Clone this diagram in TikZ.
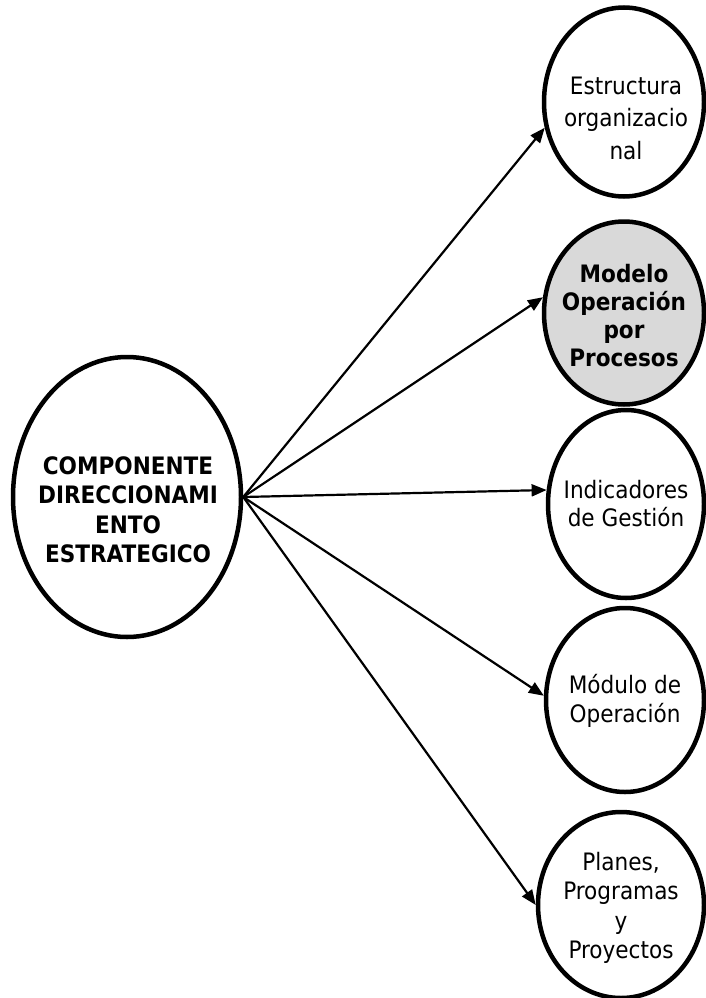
\documentclass[tikz,border=0pt]{standalone}
\usepackage{fontspec}
\setmainfont{DejaVu Sans Condensed}
\usetikzlibrary{shapes.geometric,arrows.meta}
\begin{document}
\begin{tikzpicture}[x=1pt,y=-1pt,
  bubble/.style={draw=black,line width=4.5pt,ellipse,inner sep=0pt},
  bubbletext/.style={align=center,font=\fontsize{24}{28}\selectfont,inner sep=0pt},
  link/.style={line width=2.2pt,-{Triangle[length=15pt,width=12pt]}}
]
\useasboundingbox (0,0) rectangle (705,998);

% central component
\node[bubble,minimum width=228pt,minimum height=280pt] (c) at (127,497) {};
\node[bubbletext,font=\bfseries\fontsize{24}{29.5}\selectfont] (ct) at (128,510) {COMPONENTE\\DIRECCIONAMI\\ENTO\\ESTRATEGICO};

% right-hand components
\node[bubble,minimum width=160pt,minimum height=189pt] (e1) at (624,102) {};
\node[bubbletext,font=\fontsize{24}{32.5}\selectfont] (t1) at (626,118) {Estructura\\organizacio\\nal};

\node[bubble,fill=gray!30,minimum width=160pt,minimum height=183pt] (e2) at (624,313) {};
\node[bubbletext,font=\bfseries\fontsize{24}{28}\selectfont] (t2) at (624,316) {Modelo\\Operación\\por\\Procesos};

\node[bubble,minimum width=156pt,minimum height=188pt] (e3) at (626,504) {};
\node[bubbletext] (t3) at (e3) {Indicadores\\de Gestión};

\node[bubble,minimum width=158pt,minimum height=184pt] (e4) at (625,700) {};
\node[bubbletext,font=\fontsize{24}{29}\selectfont] (t4) at (625,701) {Módulo de\\Operación};

\node[bubble,minimum width=166pt,minimum height=186pt] (e5) at (621,905) {};
\node[bubbletext,font=\fontsize{24}{29.5}\selectfont] (t5) at (621,908) {Planes,\\Programas\\y\\Proyectos};

% connectors
\coordinate (hub) at (c.east);
\draw[link] (hub) -- (e1.198);
\draw[link] (hub) -- (e2.169);
\draw[link] (hub) -- (e3.170);
\draw[link] (hub) -- (e4.177);
\draw[link] (hub) -- (e5.180);
\end{tikzpicture}
\end{document}
